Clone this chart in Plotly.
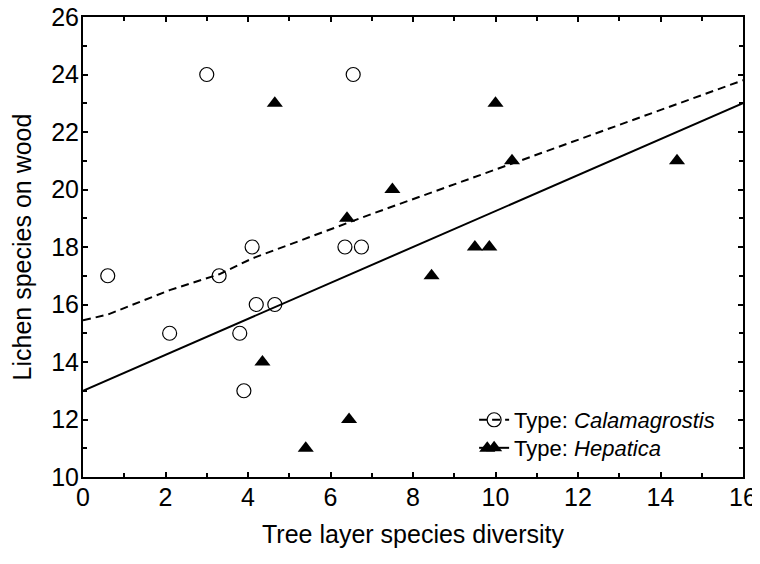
import plotly.graph_objects as go

# --- data ---
cal_x = [0.6, 2.1, 3.0, 3.3, 3.8, 3.9, 4.1, 4.2, 4.65, 6.35, 6.55, 6.75]
cal_y = [17, 15, 24, 17, 15, 13, 18, 16, 16, 18, 24, 18]
hep_x = [4.35, 4.65, 5.4, 6.4, 6.45, 7.5, 8.45, 9.5, 9.85, 9.8, 10.0, 10.4, 14.4]
hep_y = [14, 23, 11, 19, 12, 20, 17, 18, 18, 11, 23, 21, 21]

fit_cal_x = [0, 0.6, 2.1, 3.3, 4.1, 6.4, 7.0, 10.4, 13.7, 16]
fit_cal_y = [15.45, 15.65, 16.5, 17.05, 17.6, 18.85, 19.15, 20.9, 22.6, 23.8]
fit_hep_x = [0, 16]
fit_hep_y = [13, 23]

x_ticks = [0, 2, 4, 6, 8, 10, 12, 14, 16]
y_ticks = [10, 12, 14, 16, 18, 20, 22, 24, 26]

name_cal = "Type: <i>Calamagrostis</i>"
name_hep = "Type: <i>Hepatica</i>"

FONT = "Liberation Sans, Arial, sans-serif"
dash_style = "8px,5px"

fig = go.Figure()

fig.add_trace(go.Scatter(x=fit_cal_x, y=fit_cal_y, mode="lines",
                         line=dict(color="black", width=2, dash=dash_style),
                         showlegend=False, hoverinfo="skip"))
fig.add_trace(go.Scatter(x=fit_hep_x, y=fit_hep_y, mode="lines",
                         line=dict(color="black", width=2),
                         showlegend=False, hoverinfo="skip"))
fig.add_trace(go.Scatter(x=cal_x, y=cal_y, mode="markers",
                         marker=dict(symbol="circle-open", size=14, color="black",
                                     line=dict(width=1.2, color="black")),
                         showlegend=False))
fig.add_trace(go.Scatter(x=hep_x, y=hep_y, mode="markers",
                         marker=dict(symbol="triangle-up", size=14, color="black"),
                         showlegend=False))

# legend entries (line + marker), each in its own legend box for exact placement
fig.add_trace(go.Scatter(x=[None], y=[None], mode="lines+markers", name=name_cal,
                         line=dict(color="black", width=2, dash=dash_style),
                         marker=dict(symbol="circle-open", size=14, color="black",
                                     line=dict(width=1.2, color="black")),
                         legend="legend"))
fig.add_trace(go.Scatter(x=[None], y=[None], mode="lines+markers", name=name_hep,
                         line=dict(color="black", width=2),
                         marker=dict(symbol="triangle-up", size=14, color="black"),
                         legend="legend2"))

axis_common = dict(
    showline=True, linecolor="black", linewidth=2, mirror="ticks",
    ticks="inside", ticklen=5, tickwidth=1.5, tickcolor="black",
    showgrid=False, zeroline=False, automargin=False, ticklabelstandoff=-3,
    ticklabeloverflow="allow",
    tickfont=dict(family=FONT, size=25, color="black"),
    minor=dict(ticks="inside", ticklen=4, tickwidth=1.5, tickcolor="black", dtick=1, showgrid=False),
)

fig.update_xaxes(range=[0, 16], tickvals=x_ticks, ticktext=[str(v) for v in x_ticks],
                 title=dict(text="Tree layer species diversity",
                            font=dict(family=FONT, size=25, color="black"), standoff=15),
                 **axis_common)
fig.update_yaxes(range=[10, 26], tickvals=y_ticks, ticktext=[str(v) for v in y_ticks],
                 title=dict(text="Lichen species on wood",
                            font=dict(family=FONT, size=25, color="black"), standoff=13),
                 **axis_common)

legend_common = dict(xanchor="left", yanchor="middle", bgcolor="rgba(0,0,0,0)",
                     font=dict(family=FONT, size=22, color="black"), itemwidth=30)

fig.update_layout(
    width=752, height=548,
    margin=dict(l=75, r=17, t=9, b=79),
    plot_bgcolor="white", paper_bgcolor="white",
    font=dict(family=FONT, color="black"),
    legend=dict(x=0.5926, y=0.124, **legend_common),
    legend2=dict(x=0.5926, y=0.063, **legend_common),
    showlegend=True,
)

fig.write_html("out.html")
